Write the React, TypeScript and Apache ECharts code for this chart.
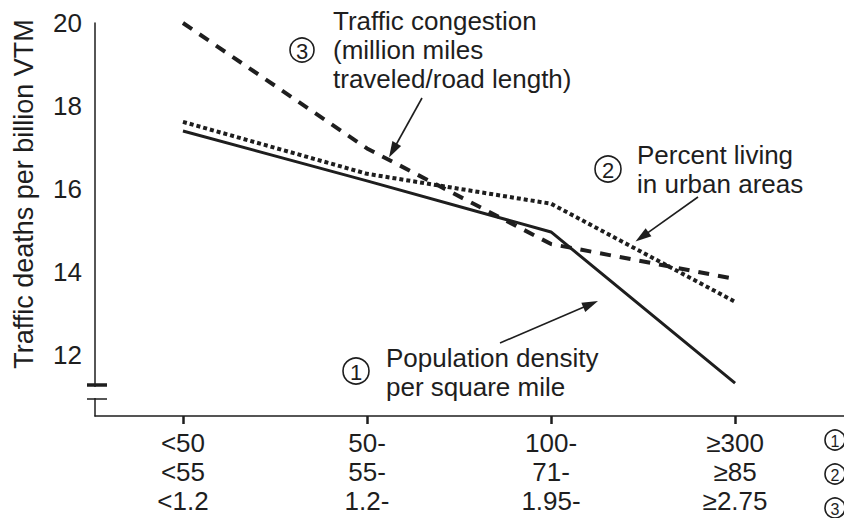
import React, { useEffect, useRef } from "react";
import * as echarts from "echarts";

// Category tick labels (three groupings stacked per tick)
const categories = ["<50\n<55\n<1.2", "50-\n55-\n1.2-", "100-\n71-\n1.95-", "≥300\n≥85\n≥2.75"];
const categoryIndex = [0, 1, 2, 3];
// Series values: traffic deaths per billion VTM
const populationDensity = [17.4, 16.2, 14.97, 11.33];
const percentUrban = [17.62, 16.37, 15.65, 13.29];
const trafficCongestion = [20.0, 16.98, 14.68, 13.84];
const yTicks = [12, 14, 16, 18, 20];
const rowKeys = ["1", "2", "3"];

const FONT = "'Liberation Sans', Arial, Helvetica, sans-serif";
const INK = "#1e1e1e";

function arrow(sx: number, sy: number, tx: number, ty: number) {
  const dx = tx - sx, dy = ty - sy;
  const len = Math.sqrt(dx * dx + dy * dy);
  const ux = dx / len, uy = dy / len;
  const nx = -uy, ny = ux;
  const hl = 16, hw = 5;
  const bx = tx - ux * hl, by = ty - uy * hl;
  return [
    { type: "line", z: 100, shape: { x1: sx, y1: sy, x2: bx + ux * 2, y2: by + uy * 2 }, style: { stroke: INK, lineWidth: 1.6 } },
    { type: "polygon", z: 100, shape: { points: [[tx, ty], [bx + nx * hw, by + ny * hw], [bx - nx * hw, by - ny * hw]] }, style: { fill: INK } },
  ];
}

function circled(cx: number, cy: number, r: number, digit: string, fs: number) {
  return [
    { type: "circle", z: 100, shape: { cx, cy, r }, style: { fill: "none", stroke: INK, lineWidth: 1.6 } },
    { type: "text", z: 100, x: cx, y: cy + 1, style: { text: digit, fill: INK, font: `${fs}px ${FONT}`, align: "center", verticalAlign: "middle" } },
  ];
}

function label(x: number, y: number, text: string) {
  return {
    type: "text", z: 100, x, y,
    style: { text, fill: INK, font: `26px ${FONT}`, align: "left", verticalAlign: "top", lineHeight: 29 },
  };
}

export default function App() {
  const ref = useRef<HTMLDivElement>(null);
  useEffect(() => {
    if (!ref.current) return;
    const chart = echarts.init(ref.current, undefined, { renderer: "svg" });
    const mk = (vals: number[]) => categoryIndex.map((c, i) => [c, vals[i]]);
    const graphics: any[] = [
      // y-axis title
      { type: "text", z: 100, x: 24, y: 194, rotation: Math.PI / 2,
        style: { text: "Traffic deaths per billion VTM", fill: INK, font: `27px ${FONT}`, align: "center", verticalAlign: "middle" } },
      // axis break
      { type: "rect", z: 100, shape: { x: 92, y: 387, width: 6, height: 11 }, style: { fill: "#fff" } },
      { type: "line", z: 100, shape: { x1: 87, y1: 385, x2: 107, y2: 385 }, style: { stroke: INK, lineWidth: 3.5 } },
      { type: "line", z: 100, shape: { x1: 87, y1: 399, x2: 107, y2: 399 }, style: { stroke: INK, lineWidth: 1.5 } },
      // annotations
      label(333, 6.5, "Traffic congestion\n(million miles\ntraveled/road length)"),
      ...circled(302, 50, 12, "3", 22),
      ...arrow(422, 98, 389, 157.5),
      label(637, 140.5, "Percent living\nin urban areas"),
      ...circled(608, 169, 13, "2", 22),
      ...arrow(698, 197, 635.5, 241.5),
      label(386, 343.5, "Population density\nper square mile"),
      ...circled(356, 371, 13, "1", 22),
      ...arrow(500, 343, 598, 301),
      // row keys at right of x labels
      ...circled(835, 440, 10, rowKeys[0], 16),
      ...circled(835, 474, 10, rowKeys[1], 16),
      ...circled(835, 508, 10, rowKeys[2], 16),
    ];
    chart.setOption({
      animation: false,
      backgroundColor: "#fff",
      grid: { left: 95, right: 0, top: 23, bottom: 102, containLabel: false },
      xAxis: {
        type: "value",
        min: -0.478,
        max: 3.592,
        axisLine: { show: true, onZero: false, lineStyle: { color: INK, width: 1.5 } },
        axisTick: { show: true, customValues: categoryIndex, length: 8, inside: false, lineStyle: { color: INK, width: 2.5 } },
        axisLabel: {
          customValues: categoryIndex,
          formatter: (v: number) => categories[Math.round(v)],
          fontSize: 26, fontFamily: FONT, color: INK, lineHeight: 29, margin: 12,
        },
        splitLine: { show: false },
      },
      yAxis: {
        type: "value",
        min: 10.54,
        max: 20,
        axisLine: { show: true, onZero: false, lineStyle: { color: INK, width: 1.5 } },
        axisTick: { show: false },
        axisLabel: { customValues: yTicks, fontSize: 26, fontFamily: FONT, color: INK, margin: 13 },
        splitLine: { show: false },
      },
      series: [
        { name: "Population density", type: "line", data: mk(populationDensity), symbol: "none",
          lineStyle: { color: INK, width: 3, type: "solid" } },
        { name: "Percent living in urban areas", type: "line", data: mk(percentUrban), symbol: "none",
          lineStyle: { color: INK, width: 4, type: [4, 3], cap: "butt" } },
        { name: "Traffic congestion", type: "line", data: mk(trafficCongestion), symbol: "none",
          lineStyle: { color: INK, width: 4, type: [11, 9], cap: "butt" } },
      ],
      graphic: graphics,
    });
    return () => chart.dispose();
  }, []);
  return <div ref={ref} style={{ position: "absolute", left: 0, top: 0, width: 844, height: 518 }} />;
}
